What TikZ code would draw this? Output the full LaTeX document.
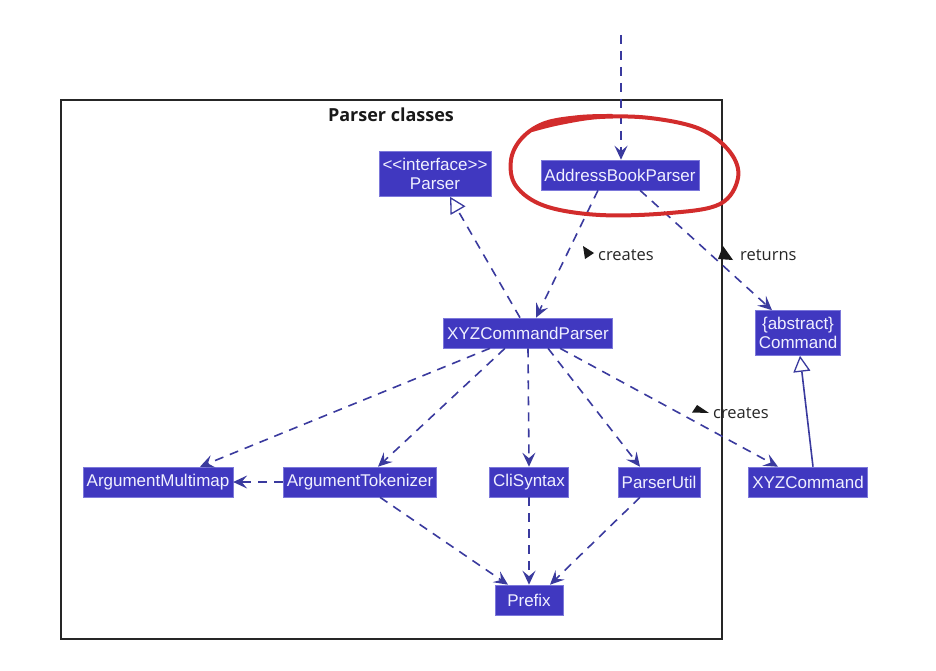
\documentclass[tikz,border=0pt]{standalone}
\usepackage{fontspec}
\setmainfont{Liberation Sans}
\newfontfamily\lblfont{Open Sans}
\usepackage{xcolor}
\usetikzlibrary{arrows.meta}
\definecolor{clsfill}{HTML}{4038C0}
\definecolor{clsline}{HTML}{7C78DA}
\definecolor{clstext}{HTML}{F0F0FF}
\definecolor{edgecol}{HTML}{3A3A9E}
\definecolor{markred}{HTML}{D22C2C}

\begin{document}
\begin{tikzpicture}[x=1pt,y=-1pt,
  cls/.style={fill=clsfill, draw=clsline, line width=0.6pt, text=clstext,
    font=\fontsize{17}{19.5}\selectfont, inner xsep=3.5pt, inner ysep=6.5pt,
    minimum height=30pt, align=center},
  lbl/.style={font=\lblfont\fontsize{16.5}{19}\selectfont, text=black!85, inner sep=0pt, anchor=west},
  dep/.style={edgecol, line width=1.6pt, dash pattern=on 9pt off 7pt,
    -{Stealth[length=14pt,width=13pt,inset=5.5pt]}},
  realize/.style={edgecol, line width=1.6pt, dash pattern=on 9pt off 7pt,
    -{Triangle[open,length=16pt,width=17pt,fill=white,line width=1.3pt]}},
  inherit/.style={edgecol, line width=1.6pt,
    -{Triangle[open,length=16pt,width=17pt,fill=white,line width=1.3pt]}}]
\useasboundingbox (0,0) rectangle (936,671);

% package frame
\draw[black!85, line width=1.6pt] (61,100) rectangle (722,639);
\node[font=\lblfont\bfseries\fontsize{18}{21}\selectfont, text=black!90] (title) at (391,115) {Parser classes};

% classes
\node[cls] (parser) at (435,174) {<{}<interface>{}>\\Parser};
\node[cls] (abp) at (620,175) {AddressBookParser};
\node[cls] (xyzp) at (528,333) {XYZCommandParser};
\node[cls] (cmd) at (798,333) {\{abstract\}\\Command};
\node[cls] (amm) at (158,482) {ArgumentMultimap};
\node[cls] (tok) at (360,482) {ArgumentTokenizer};
\node[cls] (cli) at (529,482) {CliSyntax};
\node[cls] (util) at (659,482) {ParserUtil};
\node[cls] (xyzc) at (808,482) {XYZCommand};
\node[cls, minimum width=68pt] (prefix) at (529,600) {Prefix};

% incoming call
\coordinate (entry) at (621,35);
\draw[dep] (entry) -- ([xshift=1pt]abp.north);

\draw[dep] ([xshift=-22pt]abp.south) -- ([xshift=8pt]xyzp.north);
\draw[dep] ([xshift=20pt]abp.south) -- ([xshift=-26pt]cmd.north);
\draw[realize] ([xshift=-8pt]xyzp.north) -- ([xshift=15pt]parser.south);

\foreach \dst/\a/\b in {amm/-38/42, tok/-23/18, cli/0/0, util/20/-19, xyzc/32/-30}{
  \draw[dep] ([xshift=\a pt]xyzp.south) -- ([xshift=\b pt]\dst.north);
}

\draw[dep] (tok.west) -- (amm.east);
\draw[dep] ([xshift=20pt]tok.south) -- ([xshift=-21pt]prefix.north);
\draw[dep] (cli.south) -- (prefix.north);
\draw[dep] ([xshift=-19pt]util.south) -- ([xshift=21pt]prefix.north);
\draw[inherit] ([xshift=5pt]xyzc.north) -- ([xshift=2pt]cmd.south);

% edge labels, with their direction marks
\node[lbl] (lcreates) at (598,255) {creates};
\node[lbl] (lreturns) at (740,255) {returns};
\node[lbl] (lcreates2) at (713,413) {creates};
\fill[black!90] (594,253) -- (583,246) -- (585,259) -- cycle;
\fill[black!90] (723,246) -- (718,259) -- (733,260) -- cycle;
\fill[black!90] (697,405) -- (692,412.5) -- (709,413) -- cycle;

% hand drawn mark
\draw[markred, line width=4pt, line cap=round, line join=round]
  plot[smooth, tension=0.6] coordinates {(532,130) (560,123) (600,117) (650,118)
  (700,129) (730,152) (738,178) (720,204) (670,213) (600,215) (545,206)
  (516,186) (511,160) (522,138) (545,123) (580,117) (612,116)};
\end{tikzpicture}
\end{document}
